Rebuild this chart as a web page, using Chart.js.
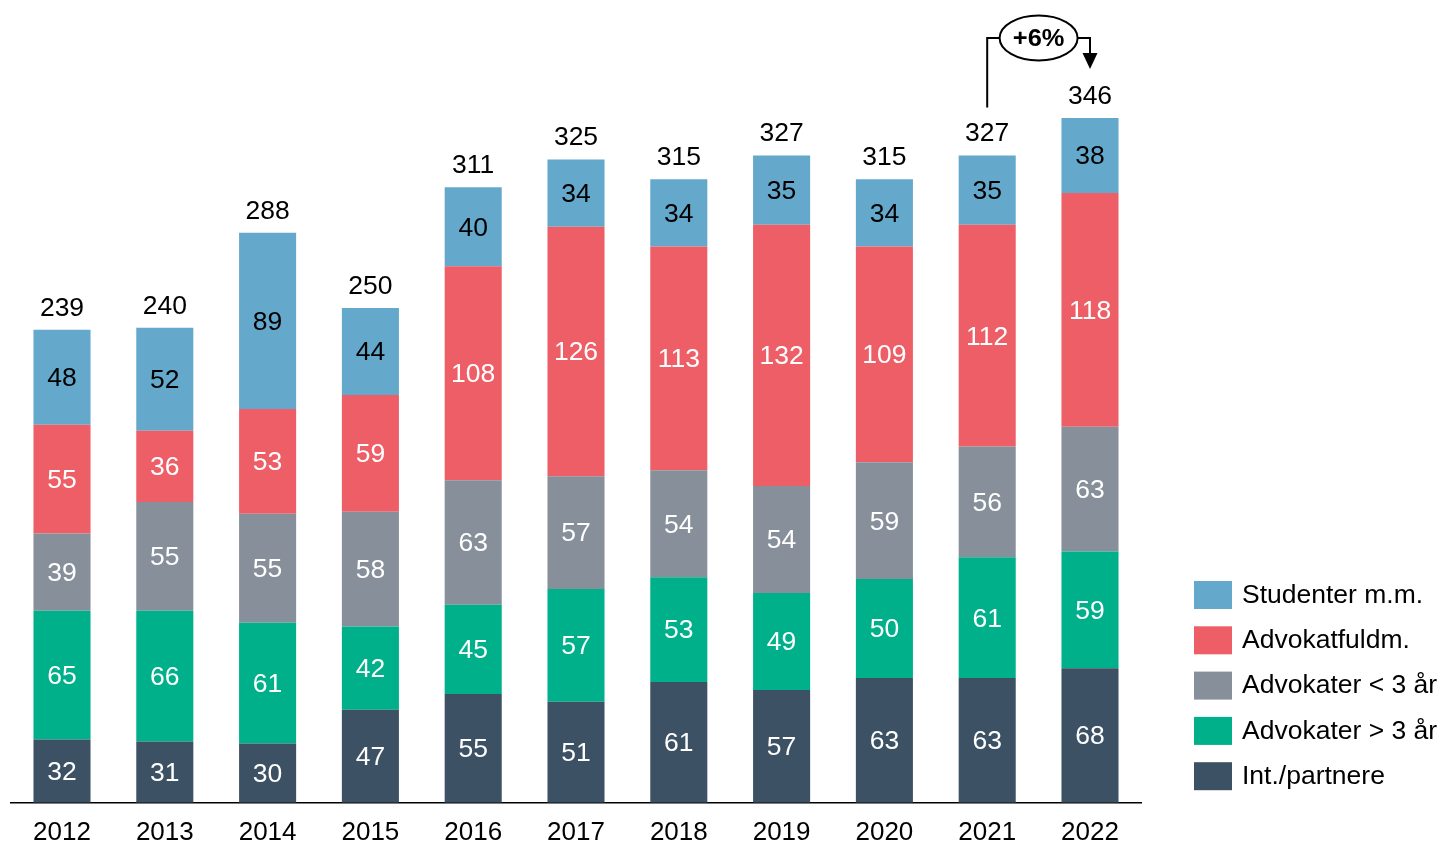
<!DOCTYPE html>
<html>
<head>
<meta charset="utf-8">
<script src="https://cdn.jsdelivr.net/npm/chart.js@4.4.0/dist/chart.umd.min.js"></script>
<style>
  html, body { margin: 0; padding: 0; background: #fff; overflow: hidden; }
  #wrap { width: 1443px; height: 870px; position: relative; }
</style>
</head>
<body>
<div id="wrap"><canvas id="myChart"></canvas></div>
<script>
var years = ['2012', '2013', '2014', '2015', '2016', '2017', '2018', '2019', '2020', '2021', '2022']

// bottom to top
var partnere = [32, 31, 30, 47, 55, 51, 61, 57, 63, 63, 68]
var advOver3 = [65, 66, 61, 42, 45, 57, 53, 49, 50, 61, 59]
var advUnder3 = [39, 55, 55, 58, 63, 57, 54, 54, 59, 56, 63]
var fuldm = [55, 36, 53, 59, 108, 126, 113, 132, 109, 112, 118]
var studenter = [48, 52, 89, 44, 40, 34, 34, 35, 34, 35, 38]
var totals = [239, 240, 288, 250, 311, 325, 315, 327, 315, 327, 346]

var growthLabel = '+6%'

var FONT = 'Liberation Sans, Arial, sans-serif'
var STRETCH = 1.06 // text in the original is a bit wide

function wideText(ctx, txt, x, y) {
    ctx.save()
    ctx.translate(x, y)
    ctx.scale(STRETCH, 1)
    ctx.fillText(txt, 0, 0)
    ctx.restore()
}

// segment labels, totals, growth arrow and legend
const barText = {
    id: 'barText',
    afterDatasetsDraw(chart) {
        const ctx = chart.ctx
        const x = chart.scales.x
        const y = chart.scales.y
        ctx.save()
        ctx.font = '25px ' + FONT
        ctx.textAlign = 'center'
        ctx.textBaseline = 'middle'
        chart.data.datasets.forEach((ds, di) => {
            const meta = chart.getDatasetMeta(di)
            meta.data.forEach((bar, i) => {
                ctx.fillStyle = ds.textColor
                wideText(ctx, String(ds.data[i]), bar.x, (bar.y + bar.base) / 2 + 2)
            })
        })
        ctx.fillStyle = '#000'
        totals.forEach((t, i) => {
            wideText(ctx, String(t), x.getPixelForValue(i), y.getPixelForValue(t) - 21)
        })

        // growth marker between last two bars
        const n = totals.length
        const xa = x.getPixelForValue(n - 2)
        const xb = x.getPixelForValue(n - 1)
        const cx = (xa + xb) / 2
        const cy = 38
        const rx = 39
        const ry = 22.5
        ctx.strokeStyle = '#000'
        ctx.lineWidth = 2
        ctx.beginPath()
        ctx.moveTo(xa, y.getPixelForValue(totals[n - 2]) - 48)
        ctx.lineTo(xa, cy)
        ctx.lineTo(cx - rx, cy)
        ctx.stroke()
        ctx.beginPath()
        ctx.moveTo(cx + rx, cy)
        ctx.lineTo(xb, cy)
        ctx.lineTo(xb, 54)
        ctx.stroke()
        ctx.fillStyle = '#000'
        ctx.beginPath()
        ctx.moveTo(xb - 7.5, 53)
        ctx.lineTo(xb + 7.5, 53)
        ctx.lineTo(xb, 69)
        ctx.closePath()
        ctx.fill()
        ctx.beginPath()
        ctx.ellipse(cx, cy, rx, ry, 0, 0, Math.PI * 2)
        ctx.fillStyle = '#fff'
        ctx.fill()
        ctx.stroke()
        ctx.fillStyle = '#000'
        ctx.font = 'bold 24px ' + FONT
        wideText(ctx, growthLabel, cx, cy + 1)

        // legend, top item = top series
        ctx.font = '25px ' + FONT
        ctx.textAlign = 'left'
        const items = chart.data.datasets.slice().reverse()
        items.forEach((ds, k) => {
            const top = 581 + k * 45.3
            ctx.fillStyle = ds.backgroundColor
            ctx.fillRect(1194, top, 38, 28)
            ctx.fillStyle = '#000'
            wideText(ctx, ds.label, 1242, top + 15)
        })
        ctx.restore()
    }
}

const abc = document.getElementById('myChart')
const myChart = new Chart(abc, {
    type: 'bar',
    data: {
        labels: years,
        datasets: [
            { label: 'Int./partnere', data: partnere, backgroundColor: '#3C5163', textColor: '#fff' },
            { label: 'Advokater > 3 år', data: advOver3, backgroundColor: '#00B08B', textColor: '#fff' },
            { label: 'Advokater < 3 år', data: advUnder3, backgroundColor: '#87909A', textColor: '#fff' },
            { label: 'Advokatfuldm.', data: fuldm, backgroundColor: '#EE5E67', textColor: '#fff' },
            { label: 'Studenter m.m.', data: studenter, backgroundColor: '#64A8CC', textColor: '#000' }
        ]
    },
    options: {
        responsive: true,
        maintainAspectRatio: false,
        animation: false,
        datasets: {
            bar: { categoryPercentage: 1, barPercentage: 0.555, borderWidth: 0 }
        },
        layout: { padding: { left: 10.6, right: 301.6, top: 11, bottom: 8 } },
        plugins: {
            legend: { display: false },
            tooltip: { enabled: false }
        },
        scales: {
            x: {
                stacked: true,
                grid: { display: false, drawTicks: false },
                border: { display: true, color: '#000', width: 1.5 },
                ticks: { color: '#000', font: { family: FONT, size: 26 }, padding: 14 }
            },
            y: {
                stacked: true,
                display: false,
                min: 0,
                max: 400
            }
        }
    },
    plugins: [barText]
})
</script>
</body>
</html>
